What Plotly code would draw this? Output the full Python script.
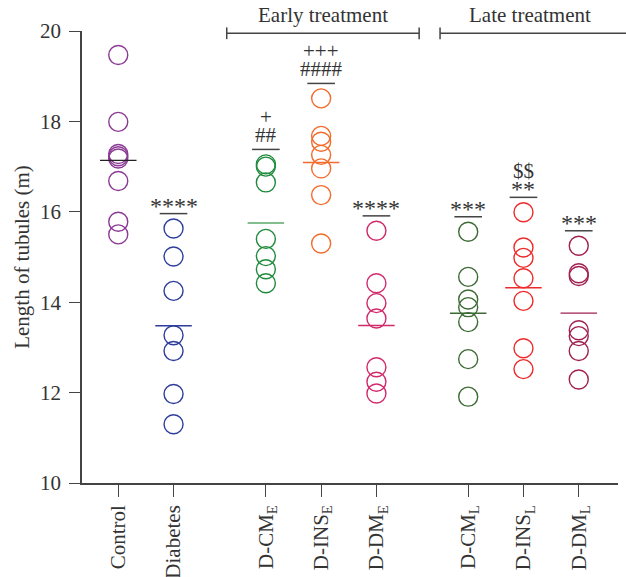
import numpy as np
import plotly.graph_objects as go

# ---- data ----
groups = ["Control", "Diabetes", "D-CM<sub>E</sub>", "D-INS<sub>E</sub>", "D-DM<sub>E</sub>",
          "D-CM<sub>L</sub>", "D-INS<sub>L</sub>", "D-DM<sub>L</sub>"]
positions = [0, 1, 2.67, 3.67, 4.67, 6.33, 7.33, 8.33]

control = [19.47, 17.99, 17.28, 17.23, 17.18, 16.68, 15.78, 15.50]
diabetes = [15.63, 15.01, 14.25, 13.27, 12.92, 11.97, 11.30]
dcm_e = [17.05, 17.00, 16.65, 15.40, 15.02, 14.73, 14.42]
dins_e = [18.51, 17.68, 17.55, 17.26, 16.96, 16.37, 15.30]
ddm_e = [15.58, 14.42, 13.98, 13.64, 12.56, 12.24, 11.98]
dcm_l = [15.56, 14.56, 14.06, 13.89, 13.56, 12.74, 11.91]
dins_l = [15.99, 15.21, 14.98, 14.53, 14.03, 12.98, 12.52]
ddm_l = [15.25, 14.64, 14.58, 13.38, 13.25, 12.92, 12.29]
values = [control, diabetes, dcm_e, dins_e, ddm_e, dcm_l, dins_l, ddm_l]

# significance marks, lines listed bottom (closest to bar) first
sig_labels = [[], ["****"], ["##", "+"], ["####", "+++"], ["****"], ["***"], ["**", "$$"], ["***"]]

y_ticks = [10, 12, 14, 16, 18, 20]

# ---- styles ----
marker_colors = ["#8B3A94", "#2E3D9C", "#1F8A3C", "#F26B2B", "#D02A6B", "#3D6B35", "#EE2A2A", "#A02050"]
mean_colors = ["#222222", "#2E3D9C", "#5BA86A", "#F26B2B", "#D02A6B", "#3D6B35", "#EE2A2A", "#A02050"]
FONT = "Liberation Serif"
TXT = "#333333"
FS = 21

fig = go.Figure()
for pos, vals, mc, mcol in zip(positions, values, marker_colors, mean_colors):
    fig.add_trace(go.Scatter(
        x=[pos] * len(vals), y=vals, mode="markers",
        marker=dict(symbol="circle-open", size=19, color=mc, line=dict(width=1.4, color=mc)),
        showlegend=False, hoverinfo="y"))
    m = float(np.mean(vals))
    fig.add_trace(go.Scatter(
        x=[pos - 0.33, pos + 0.33], y=[m, m], mode="lines",
        line=dict(color=mcol, width=1.4), showlegend=False, hoverinfo="skip"))

annotations = []
for pos, vals, labs in zip(positions, values, sig_labels):
    if not labs:
        continue
    ly = max(vals) + 0.33
    fig.add_trace(go.Scatter(
        x=[pos - 0.25, pos + 0.25], y=[ly, ly], mode="lines",
        line=dict(color="#444444", width=1.5), showlegend=False, hoverinfo="skip"))
    shift = 0
    for i, lab in enumerate(labs):
        star = lab.startswith("*")
        shift = (8 if star else 14) if i == 0 else shift + 18
        annotations.append(dict(
            x=pos, y=ly, xref="x", yref="y", text=lab, showarrow=False,
            xanchor="center", yanchor="middle", yshift=shift, borderpad=0,
            font=dict(family=FONT, size=(24 if star else FS), color=TXT)))

# treatment brackets
shapes = []
for x0, x1 in [(0.27, 0.629), (0.668, 1.03)]:
    shapes.append(dict(type="line", xref="paper", yref="paper", x0=x0, x1=x1, y0=0.995, y1=0.995,
                       line=dict(color="#444444", width=1.5)))
    for xx in (x0, x1):
        shapes.append(dict(type="line", xref="paper", yref="paper", x0=xx, x1=xx, y0=0.982, y1=1.008,
                           line=dict(color="#444444", width=1.5)))
annotations.append(dict(x=0.45, y=1.035, xref="paper", yref="paper", text="Early treatment",
                        showarrow=False, xanchor="center", yanchor="middle",
                        font=dict(family=FONT, size=FS, color=TXT)))
annotations.append(dict(x=0.836, y=1.035, xref="paper", yref="paper", text="Late treatment",
                        showarrow=False, xanchor="center", yanchor="middle",
                        font=dict(family=FONT, size=FS, color=TXT)))

fig.update_layout(
    width=626, height=577,
    margin=dict(l=82, r=8, t=31, b=94),
    paper_bgcolor="white", plot_bgcolor="white",
    font=dict(family=FONT, size=FS, color=TXT),
    shapes=shapes, annotations=annotations,
    xaxis=dict(range=[-0.656, 9.04], tickmode="array", tickvals=positions, ticktext=groups,
               tickangle=-90, ticks="outside", ticklen=12, tickwidth=1.4, tickcolor="#444444",
               showline=True, linecolor="#444444", linewidth=1.5, showgrid=False, zeroline=False,
               automargin=False,
               tickfont=dict(family=FONT, size=FS, color=TXT)),
    yaxis=dict(range=[10, 20], tickmode="array", tickvals=y_ticks,
               ticks="outside", ticklen=11, tickwidth=1.4, tickcolor="#444444",
               showline=True, linecolor="#444444", linewidth=1.5, showgrid=False, zeroline=False,
               automargin=False, ticklabelstandoff=4,
               tickfont=dict(family=FONT, size=FS, color=TXT),
               title=dict(text="Length of tubules (m)", font=dict(family=FONT, size=FS, color=TXT), standoff=5)),
)

fig.write_html("out.html")
